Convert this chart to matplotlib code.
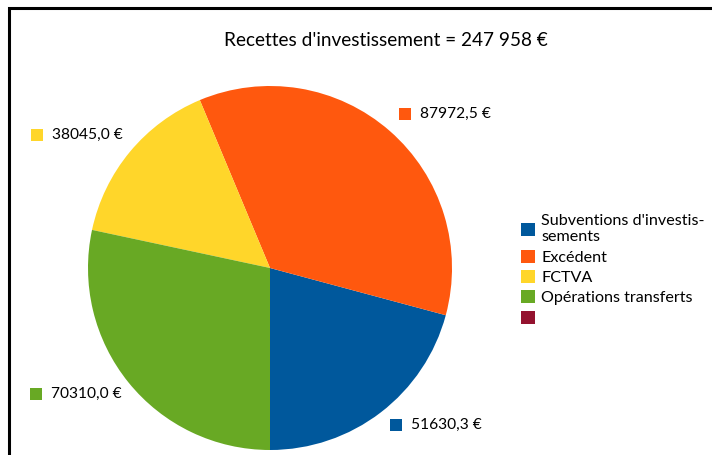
#!/usr/bin/env python3
"""Pie chart of investment receipts (recettes d'investissement)."""

import matplotlib

matplotlib.use("Agg")
import matplotlib.pyplot as plt
from matplotlib.patches import Patch, Rectangle

plt.rcParams["font.family"] = ["Lato", "DejaVu Sans"]

# data
categories = [
    "Subventions d'investis-\nsements",
    "Excédent",
    "FCTVA",
    "Opérations transferts",
    "",
]
values = [51630.3, 87972.5, 38045.0, 70310.0, 0.0]
colors = ["#00589c", "#ff580e", "#ffd62a", "#68a924", "#94122f"]
total_label = "247 958 €"

W, H = 712, 455
fig = plt.figure(figsize=(W / 100, H / 100), dpi=100)

# pie axes: centre (270, 268) px, radius 182 px
cx, cy, r = 270, 268, 182
ax = fig.add_axes([(cx - r) / W, (H - cy - r) / H, 2 * r / W, 2 * r / H])
ax.pie(
    values[:4],
    colors=colors[:4],
    startangle=-90,
    counterclock=True,
    radius=1.0,
    wedgeprops=dict(linewidth=0),
)
ax.set_xlim(-1, 1)
ax.set_ylim(-1, 1)
ax.set_aspect("equal")
ax.axis("off")

fig.text(386 / W, 1 - 40 / H, f"Recettes d'investissement = {total_label}",
         ha="center", va="center", fontsize=13.7)

# value labels with coloured squares (left x of square, centre y), px
label_pos = [(390, 425), (399, 114), (31, 135), (30, 394)]
sq = 12
for (x, y), v, c in zip(label_pos, values[:4], colors[:4]):
    fig.patches.append(Rectangle((x / W, (H - y - sq / 2) / H), sq / W, sq / H,
                                 transform=fig.transFigure, facecolor=c,
                                 edgecolor="none"))
    txt = f"{v:.1f}".replace(".", ",") + " €"
    fig.text((x + sq + 9) / W, 1 - y / H, txt, ha="left", va="center",
             fontsize=11.2)

handles = [Patch(facecolor=c, edgecolor="none") for c in colors]
fig.legend(handles, categories, loc="upper left",
           bbox_to_anchor=(510 / W, 1 - 203 / H), frameon=False,
           fontsize=11.6, handlelength=0.85, handleheight=0.85,
           handletextpad=0.4, labelspacing=0.33, borderpad=0.2)

# outer frame (right and bottom edges lie outside the picture)
fig.patches.append(Rectangle((8.5 / W, -0.05), 1.1, 1 - 7.5 / H + 0.05,
                             transform=fig.transFigure, fill=False,
                             edgecolor="black", linewidth=2.2))

fig.savefig("out.png", dpi=100)
